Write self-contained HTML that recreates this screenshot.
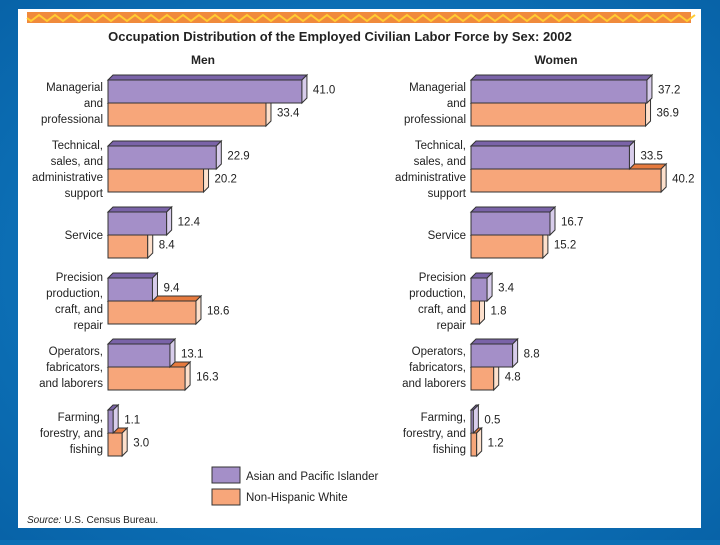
<!DOCTYPE html>
<html><head><meta charset="utf-8"><style>
body{margin:0;width:720px;height:540px;overflow:hidden;background:#0a6fb5;font-family:"Liberation Sans",sans-serif}
</style></head><body>
<svg id="c" width="720" height="540" xmlns="http://www.w3.org/2000/svg" font-family="Liberation Sans, sans-serif">
<defs><radialGradient id="bg" cx="0.5" cy="0.5" r="0.7"><stop offset="0" stop-color="#1487d0"/><stop offset="1" stop-color="#0863a8"/></radialGradient></defs>
<rect width="720" height="540" fill="url(#bg)"/>
<rect x="18" y="9" width="683" height="519" fill="#fff"/>
<rect x="27" y="12" width="664" height="11" fill="#f08a3c"/>
<path id="zig" fill="none" stroke="#ffcc33" stroke-width="2"/>
<text x="340" y="41" text-anchor="middle" font-size="13" font-weight="bold" fill="#222">Occupation Distribution of the Employed Civilian Labor Force by Sex: 2002</text>
<text x="203" y="64" text-anchor="middle" font-size="12" font-weight="bold" fill="#222">Men</text>
<text x="556" y="64" text-anchor="middle" font-size="12" font-weight="bold" fill="#222">Women</text>
<g id="marks"></g>
<rect x="212" y="467" width="28" height="16" fill="#a48fc8" stroke="#333"/>
<text x="246" y="480" font-size="11.5" fill="#222">Asian and Pacific Islander</text>
<rect x="212" y="489" width="28" height="16" fill="#f7a67a" stroke="#333"/>
<text x="246" y="501" font-size="11.5" fill="#222">Non-Hispanic White</text>
<text x="27" y="523" font-size="10" fill="#222"><tspan font-style="italic">Source:</tspan> U.S. Census Bureau.</text>
</svg>
<script>
const categories=[["Managerial","and","professional"],["Technical,","sales, and","administrative","support"],["Service"],["Precision","production,","craft, and","repair"],["Operators,","fabricators,","and laborers"],["Farming,","forestry, and","fishing"]];
const menAsian=[41.0,22.9,12.4,9.4,13.1,1.1];
const menWhite=[33.4,20.2,8.4,18.6,16.3,3.0];
const womenAsian=[37.2,33.5,16.7,3.4,8.8,0.5];
const womenWhite=[36.9,40.2,15.2,1.8,4.8,1.2];
const NS="http://www.w3.org/2000/svg";
const g=document.getElementById('marks');
let z="M27 18";for(let x=27;x<=691;x+=8)z+=" L"+(x+4)+" "+((x/8)%2<1?15:21);
document.getElementById('zig').setAttribute('d',z);
const k=4.73;
function yC(i){return 103+i*66;}
function el(t,a){const e=document.createElementNS(NS,t);for(const n in a)e.setAttribute(n,a[n]);g.appendChild(e);return e;}
function bar(x0,v,y,h,front,top,side,name){
  const w=v*k,d=5;
  const f=el('rect',{x:x0,y:y,width:w,height:h,fill:front,stroke:'#333','stroke-width':1});
  
  
  el('polygon',{points:`${x0},${y} ${x0+d},${y-d} ${x0+w+d},${y-d} ${x0+w},${y}`,fill:top,stroke:'#333','stroke-width':1});
  el('polygon',{points:`${x0+w},${y} ${x0+w+d},${y-d} ${x0+w+d},${y+h-d} ${x0+w},${y+h}`,fill:side,stroke:'#333','stroke-width':1});
  const t=el('text',{x:x0+w+d+6,y:y+h/2+2,'font-size':11.5,fill:'#222'});
  t.textContent=v.toFixed(1);
  
  
}
function panel(x0,lx,A,W,pre){
  categories.forEach((c,i)=>{
    const yc=yC(i);
    bar(x0,W[i],yc,23,'#f7a67a','#e67a3e','#fde0cc',pre+'-white-'+i);
    bar(x0,A[i],yc-23,23,'#a48fc8','#7a63a8','#d8cdeb',pre+'-asian-'+i);
    const n=c.length;
    c.forEach((s,j)=>{
      const t=el('text',{x:lx,y:yc+4+(j-(n-1)/2)*16,'text-anchor':'end','font-size':11.5,fill:'#222'});
      t.textContent=s;
      
      
    });
  });
}
panel(108,103,menAsian,menWhite,'men');
panel(471,466,womenAsian,womenWhite,'women');
</script>
</body></html>
